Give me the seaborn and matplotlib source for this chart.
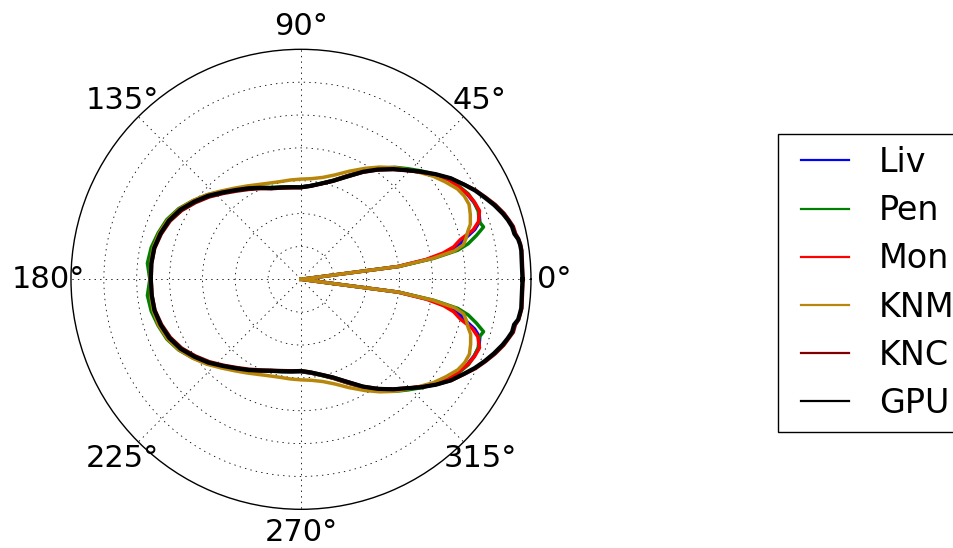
import numpy as np
import matplotlib
matplotlib.use("Agg")
import matplotlib.pyplot as plt
from matplotlib.legend_handler import HandlerLine2D
import seaborn as sns

# ---------------- data (angle in degrees, radius in grid units) ----------------
THETA_DEG = [0, 7.5, 9, 10.5, 12, 14, 16, 18, 21, 24, 27, 30, 34, 38, 42, 46, 50, 55, 60,
             66, 72, 78, 84, 90, 96, 102, 108, 114, 120, 126, 132, 138, 144, 150, 156, 162,
             168, 174, 180,
             186, 192, 198, 204, 210, 216, 222, 228, 234, 240, 246, 252, 258, 264, 270,
             276, 282, 288, 294, 300, 305, 310, 314, 318, 322, 326, 330, 333, 336, 339,
             342, 344, 346, 348, 349.5, 351, 352.5, 360]

LIV = [0, 3.00, 3.95, 4.55, 4.90, 5.15, 5.50, 5.72, 5.80, 5.76, 5.69, 5.58, 5.43, 5.16, 4.89,
       4.63, 4.39, 4.09, 3.79, 3.44, 3.16, 2.98, 2.87, 2.81, 2.82, 2.86, 2.92, 3.05, 3.20,
       3.36, 3.56, 3.80, 4.02, 4.24, 4.41, 4.51, 4.58, 4.60, 4.58,
       4.59, 4.58, 4.51, 4.41, 4.24, 4.02, 3.80, 3.56, 3.36, 3.20, 3.05, 2.93, 2.87, 2.82,
       2.81, 2.87, 2.98, 3.16, 3.44, 3.79, 4.09, 4.39, 4.63, 4.89, 5.16, 5.43, 5.58, 5.69,
       5.76, 5.80, 5.72, 5.50, 5.15, 4.90, 4.55, 3.95, 3.00, 0]

PEN = [0, 3.02, 4.10, 4.85, 5.20, 5.50, 5.78, 5.70, 5.78, 5.77, 5.72, 5.60, 5.45, 5.19, 4.93,
       4.68, 4.45, 4.12, 3.81, 3.45, 3.17, 2.99, 2.87, 2.81, 2.83, 2.87, 2.94, 3.07, 3.22,
       3.39, 3.60, 3.84, 4.07, 4.30, 4.47, 4.57, 4.66, 4.70, 4.60,
       4.70, 4.66, 4.57, 4.47, 4.30, 4.07, 3.84, 3.60, 3.39, 3.22, 3.07, 2.94, 2.87, 2.83,
       2.81, 2.87, 2.99, 3.17, 3.45, 3.81, 4.12, 4.45, 4.68, 4.93, 5.19, 5.45, 5.60, 5.72,
       5.77, 5.78, 5.70, 5.78, 5.50, 5.20, 4.85, 4.10, 3.02, 0]

MON = [0, 2.95, 3.85, 4.40, 4.75, 5.00, 5.45, 5.68, 5.82, 5.78, 5.70, 5.58, 5.42, 5.15, 4.88,
       4.62, 4.38, 4.08, 3.79, 3.44, 3.16, 2.98, 2.86, 2.80, 2.81, 2.85, 2.91, 3.04, 3.19,
       3.35, 3.55, 3.79, 4.01, 4.23, 4.40, 4.51, 4.58, 4.60, 4.58,
       4.59, 4.57, 4.50, 4.40, 4.24, 4.02, 3.80, 3.56, 3.36, 3.20, 3.05, 2.92, 2.86, 2.82,
       2.80, 2.86, 2.98, 3.16, 3.44, 3.79, 4.08, 4.38, 4.62, 4.88, 5.15, 5.42, 5.58, 5.70,
       5.78, 5.82, 5.66, 5.42, 5.00, 4.75, 4.42, 3.86, 2.95, 0]

KNM = [0, 3.00, 4.05, 4.75, 5.05, 5.18, 5.28, 5.42, 5.52, 5.60, 5.58, 5.50, 5.30, 5.10, 4.86,
       4.64, 4.44, 4.17, 3.90, 3.60, 3.34, 3.17, 3.08, 3.05, 3.04, 3.04, 3.08, 3.16, 3.28,
       3.43, 3.62, 3.85, 4.07, 4.28, 4.44, 4.54, 4.60, 4.60, 4.58,
       4.60, 4.60, 4.55, 4.45, 4.29, 4.08, 3.86, 3.63, 3.44, 3.29, 3.17, 3.09, 3.05, 3.05,
       3.06, 3.09, 3.18, 3.35, 3.61, 3.91, 4.18, 4.45, 4.65, 4.87, 5.11, 5.31, 5.51, 5.59,
       5.61, 5.53, 5.43, 5.29, 5.19, 5.06, 4.76, 4.06, 3.00, 0]

KNC = [6.76, 6.78, 6.77, 6.74, 6.68, 6.66, 6.58, 6.50, 6.34, 6.15, 5.97, 5.76, 5.50, 5.19,
       4.88, 4.60, 4.36, 4.06, 3.76, 3.41, 3.14, 2.97, 2.85, 2.79, 2.80, 2.84, 2.90, 3.02,
       3.16, 3.32, 3.52, 3.75, 3.97, 4.19, 4.36, 4.47, 4.55, 4.57, 4.56,
       4.56, 4.54, 4.46, 4.35, 4.19, 3.97, 3.75, 3.52, 3.32, 3.16, 3.02, 2.91, 2.84, 2.80,
       2.78, 2.84, 2.96, 3.13, 3.40, 3.76, 4.06, 4.36, 4.60, 4.90, 5.21, 5.51, 5.76, 5.97,
       6.15, 6.33, 6.49, 6.57, 6.66, 6.67, 6.74, 6.76, 6.78, 6.76]

GPU = [6.74, 6.76, 6.75, 6.72, 6.64, 6.62, 6.55, 6.46, 6.30, 6.12, 5.95, 5.75, 5.50, 5.20,
       4.90, 4.62, 4.38, 4.08, 3.78, 3.42, 3.15, 2.98, 2.86, 2.80, 2.82, 2.86, 2.92, 3.05,
       3.20, 3.36, 3.56, 3.80, 4.02, 4.24, 4.40, 4.50, 4.57, 4.58, 4.57,
       4.57, 4.56, 4.49, 4.39, 4.23, 4.01, 3.79, 3.55, 3.35, 3.19, 3.04, 2.93, 2.86, 2.82,
       2.79, 2.85, 2.97, 3.14, 3.41, 3.77, 4.07, 4.37, 4.61, 4.91, 5.21, 5.50, 5.74, 5.94,
       6.12, 6.29, 6.45, 6.54, 6.62, 6.63, 6.72, 6.74, 6.76, 6.74]

SERIES_NAMES = ["Liv", "Pen", "Mon", "KNM", "KNC", "GPU"]
SERIES_VALUES = [LIV, PEN, MON, KNM, KNC, GPU]
SERIES_COLORS = ["#0000ff", "#008000", "#ff0000", "#b8860b", "#800000", "#000000"]

THETA_TICKS = [0, 45, 90, 135, 180, 225, 270, 315]
THETA_LABELS = ["0°", "45°", "90°", "135°", "180°", "225°", "270°", "315°"]
R_GRID = [1, 2, 3, 4, 5, 6]
R_MAX = 7

# ---------------- figure ----------------
plt.rcParams["font.family"] = ["DejaVu Sans"]
plt.rcParams["lines.scale_dashes"] = False

fig = plt.figure(figsize=(9.54, 5.48), dpi=100)
ax = fig.add_axes([0.0744, 0.0706, 0.4822, 0.8394], projection="polar")

theta_rad = np.deg2rad(np.array(THETA_DEG, dtype=float))
for name, vals, col in zip(SERIES_NAMES, SERIES_VALUES, SERIES_COLORS):
    lw = 3.0 if name == "GPU" else 2.5
    sns.lineplot(x=theta_rad, y=np.array(vals, dtype=float), ax=ax, color=col,
                 linewidth=lw, sort=False, estimator=None, label=name, legend=False)

ax.set_xlabel("")
ax.set_ylabel("")
ax.set_ylim(0, R_MAX)
ax.set_yticks(R_GRID)
ax.set_yticklabels([])
ax.set_xticks(np.deg2rad(THETA_TICKS))
ax.set_xticklabels(THETA_LABELS, fontsize=22)
ax.tick_params(axis="x", pad=9.5, length=0)
ax.tick_params(axis="y", length=0)
ax.grid(True, color="black", linestyle=(0, (1, 3)), linewidth=0.6)
ax.spines["polar"].set_linewidth(1.0)
ax.spines["polar"].set_color("black")

handles = ax.get_lines()
leg = fig.legend(handles, SERIES_NAMES, loc="center left",
                 bbox_to_anchor=(778 / 954, 1 - 283 / 548), fontsize=24,
                 frameon=True, fancybox=False, framealpha=1, edgecolor="black",
                 handlelength=1.76, handletextpad=0.9, labelspacing=0.455,
                 borderpad=0.36, borderaxespad=0.0,
                 handler_map={h: HandlerLine2D(xpad=0.32) for h in handles})
leg.get_frame().set_linewidth(1.0)
for ln in leg.get_lines():
    ln.set_linewidth(1.6)

fig.savefig("out.png", dpi=100)
